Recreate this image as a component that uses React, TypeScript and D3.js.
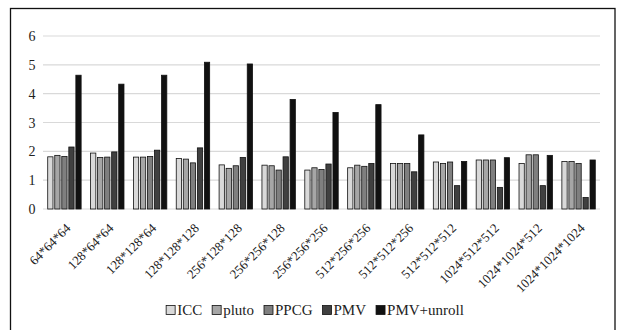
import { useEffect, useRef } from 'react'
import * as d3 from 'd3'

const categories = [
  '64*64*64',
  '128*64*64',
  '128*128*64',
  '128*128*128',
  '256*128*128',
  '256*256*128',
  '256*256*256',
  '512*256*256',
  '512*512*256',
  '512*512*512',
  '1024*512*512',
  '1024*1024*512',
  '1024*1024*1024',
]

const seriesNames = ['ICC', 'pluto', 'PPCG', 'PMV', 'PMV+unroll']

const icc = [1.81, 1.94, 1.8, 1.75, 1.53, 1.52, 1.35, 1.43, 1.58, 1.63, 1.7, 1.58, 1.65]
const pluto = [1.86, 1.79, 1.8, 1.73, 1.41, 1.5, 1.43, 1.52, 1.58, 1.58, 1.7, 1.88, 1.65]
const ppcg = [1.82, 1.8, 1.82, 1.6, 1.5, 1.35, 1.37, 1.48, 1.58, 1.63, 1.7, 1.88, 1.58]
const pmv = [2.15, 1.98, 2.04, 2.12, 1.79, 1.81, 1.56, 1.58, 1.29, 0.81, 0.75, 0.81, 0.4]
const pmvUnroll = [4.64, 4.33, 4.64, 5.09, 5.03, 3.8, 3.35, 3.62, 2.57, 1.65, 1.78, 1.86, 1.7]

const yTicks = [0, 1, 2, 3, 4, 5, 6]

const colors = ['#d9d9d9', '#a6a6a6', '#7f7f7f', '#404040', '#111111']
const font = "'Liberation Serif', 'DejaVu Serif', serif"

export default function App() {
  const ref = useRef<SVGSVGElement>(null)

  useEffect(() => {
    const svg = d3.select(ref.current)
    svg.selectAll('*').remove()

    const values = [icc, pluto, ppcg, pmv, pmvUnroll]
    const left = 43
    const right = 600
    const top = 36
    const bottom = 209

    svg
      .append('rect')
      .attr('x', 10.5)
      .attr('y', 8.5)
      .attr('width', 604.5)
      .attr('height', 340)
      .attr('fill', 'white')
      .attr('stroke', '#111')
      .attr('stroke-width', 1.3)

    const x = d3.scaleBand<string>().domain(categories).range([left, right]).paddingInner(0.22).paddingOuter(0.11)
    const xs = d3.scaleBand<string>().domain(seriesNames).range([0, x.bandwidth()]).paddingInner(0.25)
    const y = d3.scaleLinear().domain([0, 6]).range([bottom, top])

    const grid = svg.append('g')
    yTicks.forEach((t) => {
      grid
        .append('line')
        .attr('x1', left)
        .attr('x2', right)
        .attr('y1', y(t))
        .attr('y2', y(t))
        .attr('stroke', '#d9d9d9')
        .attr('stroke-width', 1.2)
      grid
        .append('text')
        .attr('x', 32)
        .attr('y', y(t) + 5)
        .attr('text-anchor', 'middle')
        .style('font-family', font)
        .style('font-size', '14px')
        .attr('fill', '#222')
        .text(t)
    })

    categories.forEach((cat, i) => {
      const g = svg.append('g').attr('transform', `translate(${x(cat)},0)`)
      seriesNames.forEach((name, s) => {
        const v = values[s][i]
        g.append('rect')
          .attr('x', xs(name) ?? 0)
          .attr('y', y(v))
          .attr('width', xs.bandwidth())
          .attr('height', y(0) - y(v))
          .attr('fill', colors[s])
          .attr('stroke', '#111')
          .attr('stroke-width', 0.8)
      })
      const cx = (x(cat) ?? 0) + x.bandwidth() / 2 + 7
      svg
        .append('text')
        .attr('transform', `translate(${cx},${bottom + 20}) rotate(-45)`)
        .attr('text-anchor', 'end')
        .style('font-family', font)
        .style('font-size', '13px')
        .attr('fill', '#222')
        .text(cat)
    })

    // legend, centred under the plot
    const legend = svg.append('g')
    let cursor = 0
    seriesNames.forEach((name, s) => {
      const item = legend.append('g').attr('transform', `translate(${cursor},0)`)
      item
        .append('rect')
        .attr('x', 0)
        .attr('y', -9.5)
        .attr('width', 9)
        .attr('height', 9)
        .attr('fill', colors[s])
        .attr('stroke', '#111')
        .attr('stroke-width', 0.8)
      const label = item
        .append('text')
        .attr('x', 11)
        .attr('y', 0)
        .style('font-family', font)
        .style('font-size', '15px')
        .attr('fill', '#222')
        .text(name)
      const w = (label.node() as SVGTextElement).getComputedTextLength()
      cursor += 11 + w + 10
    })
    const total = cursor - 10
    legend.attr('transform', `translate(${315 - total / 2},315)`)
  }, [])

  return (
    <div style={{ position: 'fixed', left: 0, top: 0, background: 'white' }}>
      <svg ref={ref} width={622} height={330} style={{ display: 'block' }} />
    </div>
  )
}
